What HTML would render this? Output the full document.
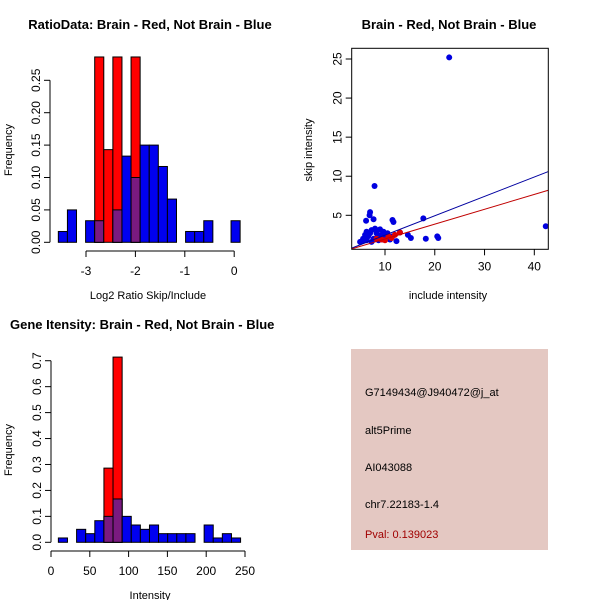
<!DOCTYPE html>
<html><head><meta charset="utf-8"><style>
body{margin:0;background:#fff}
svg{display:block;font-family:"Liberation Sans",sans-serif}
</style></head><body>
<svg id="s" width="600" height="600">
<text x="150" y="29" font-size="13" font-weight="bold" text-anchor="middle">RatioData: Brain - Red, Not Brain - Blue</text>
<text x="449" y="29" font-size="13" font-weight="bold" text-anchor="middle">Brain - Red, Not Brain - Blue</text>
<text x="10" y="329" font-size="13" font-weight="bold">Gene Itensity: Brain - Red, Not Brain - Blue</text>
<text x="148" y="299" font-size="11" text-anchor="middle">Log2 Ratio Skip/Include</text>
<text transform="translate(12,150) rotate(-90)" font-size="11" text-anchor="middle">Frequency</text>
<text x="448" y="299" font-size="11" text-anchor="middle">include intensity</text>
<text transform="translate(312,150) rotate(-90)" font-size="11" text-anchor="middle">skip intensity</text>
<text x="150" y="599" font-size="11" text-anchor="middle">Intensity</text>
<text transform="translate(12,450) rotate(-90)" font-size="11" text-anchor="middle">Frequency</text>
<g id="h1"></g><g id="sc"></g><g id="h2"></g>
<rect x="351" y="349" width="197" height="201" fill="#e4c8c2"/>
<g font-size="11">
<text x="365" y="396">G7149434@J940472@j_at</text>
<text x="365" y="434">alt5Prime</text>
<text x="365" y="471">AI043088</text>
<text x="365" y="508">chr7.22183-1.4</text>
<text x="365" y="538" fill="#a00000">Pval: 0.139023</text>
</g>
</svg>
<script>
const NS="http://www.w3.org/2000/svg";
// Ratio histogram data
const ratioStart=-3.56, ratioWidth=0.184;
const ratioBlue=[0.0167,0.05,0,0.0333,0.0333,0,0.05,0.133,0.1,0.15,0.15,0.117,0.0667,0,0.0167,0.0167,0.0333,0,0,0.0333];
const ratioRed=[0,0,0,0,0.286,0.143,0.286,0,0.286,0,0,0,0,0,0,0,0,0,0,0];
const ratioXTicks=[-3,-2,-1,0];
const ratioYTicks=[0,0.05,0.1,0.15,0.2,0.25];
const ratioYLabels=["0.00","0.05","0.10","0.15","0.20","0.25"];
// Intensity histogram data
const intStart=9.5, intWidth=11.74;
const intBlue=[0.0167,0,0.05,0.0333,0.0833,0.1,0.167,0.1,0.0667,0.05,0.0667,0.0333,0.0333,0.0333,0.0333,0,0.0667,0.0167,0.0333,0.0167];
const intRed=[0,0,0,0,0,0.286,0.714,0,0,0,0,0,0,0,0,0,0,0,0,0];
const intXTicks=[0,50,100,150,200,250];
const intYTicks=[0,0.1,0.2,0.3,0.4,0.5,0.6,0.7];
const intYLabels=["0.0","0.1","0.2","0.3","0.4","0.5","0.6","0.7"];
// Scatter data
const blueX=[22.9,42.3,7.9,17.7,11.5,11.7,7.0,6.9,7.7,6.2,18.2,20.5,20.7,14.6,15.2,12.3,13.0,5.0,5.6,6.0,6.3,6.6,7.0,7.3,7.7,8.0,8.3,8.7,9.0,9.3,9.7,10,10.5,11,11.5,7.3,6.3,5.4,8.5,9.6];
const blueY=[25.2,3.6,8.75,4.6,4.4,4.15,5.4,5.0,4.5,4.3,2.0,2.3,2.1,2.5,2.1,1.7,2.8,1.6,2.0,2.5,2.9,2.3,2.7,3.1,2.0,3.3,2.7,1.8,3.2,2.5,2.9,2.3,2.7,1.9,2.3,1.6,1.8,1.7,2.2,1.9];
const redX=[10,10.7,12,13,9.3,8.3,11.3];
const redY=[1.8,2.3,2.5,2.8,1.9,2.0,2.1];
const fitBlue=[-0.02,0.248], fitRed=[0.07,0.19];
const scXTicks=[10,20,30,40], scYTicks=[5,10,15,20,25];

function el(tag,attrs,parent){const e=document.createElementNS(NS,tag);for(const k in attrs)e.setAttribute(k,attrs[k]);parent.appendChild(e);return e;}

function hist(g,name,start,w,blue,red,xs,ys,xt,yt,yl){
  const X=v=>xs[0]+(v-xs[1])*xs[2], Y=v=>ys[0]-v*ys[1];
  for(let i=0;i<blue.length;i++){
    const x0=X(start+i*w), x1=X(start+(i+1)*w);
    const b=blue[i], r=red[i], m=Math.min(b,r);
    if(b>0){const e=el('rect',{x:x0,y:Y(b),width:x1-x0,height:Y(0)-Y(b),fill:'#0000f0',stroke:'#000','stroke-width':1},g);
      
      }
    if(r>0){const e=el('rect',{x:x0,y:Y(r),width:x1-x0,height:Y(0)-Y(r),fill:'#ff0000',stroke:'#000','stroke-width':1},g);
      
      }
    if(m>0){const e=el('rect',{x:x0,y:Y(m),width:x1-x0,height:Y(0)-Y(m),fill:'#7a1a80',stroke:'#000','stroke-width':1},g);
      
      }
  }
  const ax=xs[3], ay=ys[2];
  const xa=el('line',{x1:X(xt[0]),x2:X(xt[xt.length-1]),y1:ax,y2:ax,stroke:'#000'},g);
  
  
  xt.forEach(t=>{el('line',{x1:X(t),x2:X(t),y1:ax,y2:ax+6,stroke:'#000'},g);
    const tx=el('text',{x:X(t),y:ax+24,'font-size':12,'text-anchor':'middle'},g);tx.textContent=t;
    
    });
  const ya=el('line',{x1:ay,x2:ay,y1:Y(yt[0]),y2:Y(yt[yt.length-1]),stroke:'#000'},g);
  
  
  yt.forEach((t,i)=>{el('line',{x1:ay,x2:ay-6,y1:Y(t),y2:Y(t),stroke:'#000'},g);
    const tx=el('text',{transform:`translate(${ay-10},${Y(t)}) rotate(-90)`,'font-size':12,'text-anchor':'middle'},g);tx.textContent=yl[i];
    
    });
}
hist(document.getElementById('h1'),'ratio',ratioStart,ratioWidth,ratioBlue,ratioRed,[86,-3,49.4,251],[242.3,648,50],ratioXTicks,ratioYTicks,ratioYLabels);
hist(document.getElementById('h2'),'intensity',intStart,intWidth,intBlue,intRed,[51,0,0.776,551],[542.3,259.4,51],intXTicks,intYTicks,intYLabels);

// scatter
(function(){
  const g=document.getElementById('sc');
  const L=351.7,R=548.3,T=48.3,B=249.3;
  const X=v=>385+(v-10)*4.977, Y=v=>215.3-(v-5)*7.815;
  const xmin=10+(L-385)/4.977, xmax=10+(R-385)/4.977;
  const cp=el('clipPath',{id:'cp'},g);el('rect',{x:L,y:T,width:R-L,height:B-T},cp);
  const pg=el('g',{'clip-path':'url(#cp)'},g);
  for(let i=0;i<blueX.length;i++){const c=el('circle',{cx:X(blueX[i]),cy:Y(blueY[i]),r:3,fill:'#0000e0'},pg);
    
    }
  for(let i=0;i<redX.length;i++){const c=el('circle',{cx:X(redX[i]),cy:Y(redY[i]),r:3,fill:'#e00000'},pg);
    
    }
  [[fitBlue,'#0000a0','blue-fit-line'],[fitRed,'#c00000','red-fit-line']].forEach(([f,c,n])=>{
    const l=el('line',{x1:X(xmin),y1:Y(f[0]+f[1]*xmin),x2:X(xmax),y2:Y(f[0]+f[1]*xmax),stroke:c,'stroke-width':1},pg);
    
    });
  const box=el('rect',{x:L,y:T,width:R-L,height:B-T,fill:'none',stroke:'#000'},g);
  
  
  scXTicks.forEach(t=>{el('line',{x1:X(t),x2:X(t),y1:B,y2:B+6,stroke:'#000'},g);
    const tx=el('text',{x:X(t),y:B+21,'font-size':12,'text-anchor':'middle'},g);tx.textContent=t;
    
    });
  scYTicks.forEach(t=>{el('line',{x1:L,x2:L-6,y1:Y(t),y2:Y(t),stroke:'#000'},g);
    const tx=el('text',{transform:`translate(${L-10},${Y(t)}) rotate(-90)`,'font-size':12,'text-anchor':'middle'},g);tx.textContent=t;
    
    });
})();
</script>
</body></html>
